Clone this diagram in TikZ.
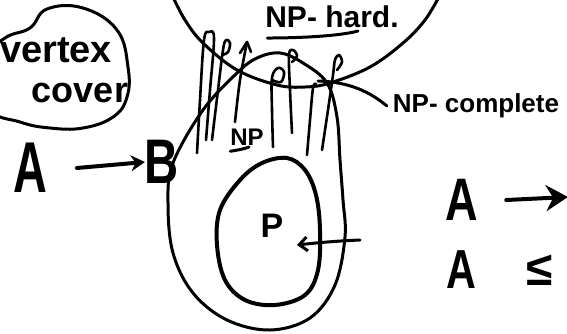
\documentclass[tikz,border=0pt]{standalone}
\usepackage{fontspec}
\setmainfont{Liberation Sans}
\usetikzlibrary{arrows.meta}
\begin{document}
\begin{tikzpicture}[x=1pt,y=-1pt,
  ink/.style={line width=3pt, line cap=round, line join=round},
  thickink/.style={line width=4pt, line cap=round, line join=round},
  hatch/.style={line width=2.6pt, line cap=round, line join=round},
  lbl/.style={inner sep=0pt, outer sep=0pt, text=black}]
\useasboundingbox (0,0) rectangle (567,333);
\clip (0,0) rectangle (567,333);
% vertex cover blob
\draw[ink] plot[smooth cycle, tension=0.7] coordinates {(-15,60) (5,38) (30,28) (47,9) (83,8) (117,30) (128,67) (127,97) (113,117) (83,128) (50,128) (20,122) (-10,108)};
\node[lbl, font=\bfseries\fontsize{38}{38}\selectfont] (vx) at (56,50) {vertex};
\node[lbl, font=\bfseries\fontsize{36}{36}\selectfont] (cv) at (80,93) {cover};
% A -> B
\node[lbl, font=\bfseries\fontsize{72}{72}\selectfont, xscale=0.65] (A1) at (30,168) {A};
\node[lbl, font=\bfseries\fontsize{63}{63}\selectfont, xscale=0.75] (B1) at (162,162) {B};
\draw[thickink, -{Stealth[length=14pt,width=16pt]}] (A1.east) ++(30,0) coordinate (a1s) (a1s) -- (B1.west);
% NP-hard circle
\draw[ink] plot[smooth, tension=0.6] coordinates {(172,-5) (185,20) (203,43) (237,70) (277,85) (305,87) (330,83) (370,67) (403,43) (425,20) (440,-5)};
\node[lbl, font=\bfseries\fontsize{30}{30}\selectfont] (hard) at (332,17) {NP- hard.};
\draw[ink] (hard.south west) ++(2,10) coordinate (u1) (u1) .. controls (300,38) and (340,36) .. (358,31);
% NP oval
\draw[ink] plot[smooth cycle, tension=0.6] coordinates {(280,53) (303,63) (327,83) (337,117) (340,160) (343,200) (345,237) (335,285) (310,318) (270,330) (227,320) (193,293) (173,253) (168,203) (173,163) (203,110) (237,73) (257,58)};
% P oval
\draw[thickink] plot[smooth cycle, tension=0.6] coordinates {(287,158) (305,170) (316,195) (320,230) (318,270) (305,295) (275,305) (245,300) (225,280) (217,245) (220,210) (240,180) (262,163)};
\node[lbl, font=\bfseries\fontsize{34}{34}\selectfont] (P) at (272,226) {P};
\coordinate (parr) at (360,240);
\draw[ink, -{Straight Barb[length=8pt,width=14pt]}] (parr) .. controls (335,241) and (315,243) .. (297,245);
% hatching of NP-complete
\draw[hatch] plot[smooth, tension=0.6] coordinates {(197,153) (200,100) (204,40) (209,32) (214,38) (210,90) (206,140)};
\draw[hatch] plot[smooth, tension=0.6] coordinates {(212,140) (218,90) (223,50) (226,40) (230,43) (228,52) (222,55)};
\draw[hatch] plot[smooth, tension=0.6] coordinates {(235,122) (240,80) (247,42)};
\draw[hatch] (240,53) -- (247,42) -- (251,52);
\draw[hatch] plot[smooth, tension=0.6] coordinates {(273,147) (272,110) (272,78) (278,68) (284,72) (281,82) (272,80)};
\draw[hatch] plot[smooth, tension=0.6] coordinates {(292,133) (290,90) (289,55) (293,50) (297,56) (292,62)};
\draw[hatch] plot[smooth, tension=0.6] coordinates {(307,155) (310,120) (313,88) (316,84)};
\draw[hatch] plot[smooth, tension=0.6] coordinates {(322,150) (328,110) (333,75) (335,60) (339,55) (342,62) (337,70)};
\node[lbl, font=\bfseries\fontsize{24}{24}\selectfont] (np) at (247,137) {NP};
\draw[ink] (np.south west) ++(0,6) coordinate (u2) (u2) .. controls (238,150) and (244,149) .. (249,147);
% NP-complete label
\node[lbl, font=\bfseries\fontsize{26}{26}\selectfont] (npc) at (476,106) {NP- complete};
\coordinate (isect) at (318,81);
\draw[ink] (npc.west) ++(-6,0) coordinate (c1) (c1) .. controls (370,92) and (350,82) .. (isect);
% right side
\node[lbl, font=\bfseries\fontsize{60}{60}\selectfont, xscale=0.75] (A2) at (462,200) {A};
\coordinate (rend) at (568,197);
\draw[thickink, -{Stealth[length=22pt,width=26pt]}] (A2.east) ++(28,0) coordinate (a2s) (a2s) -- (rend);
\node[lbl, font=\bfseries\fontsize{55}{55}\selectfont, xscale=0.75] (A3) at (461,270) {A};
\node[lbl, font=\bfseries\fontsize{48}{48}\selectfont] (le) at (540,270) {≤};
\end{tikzpicture}
\end{document}
